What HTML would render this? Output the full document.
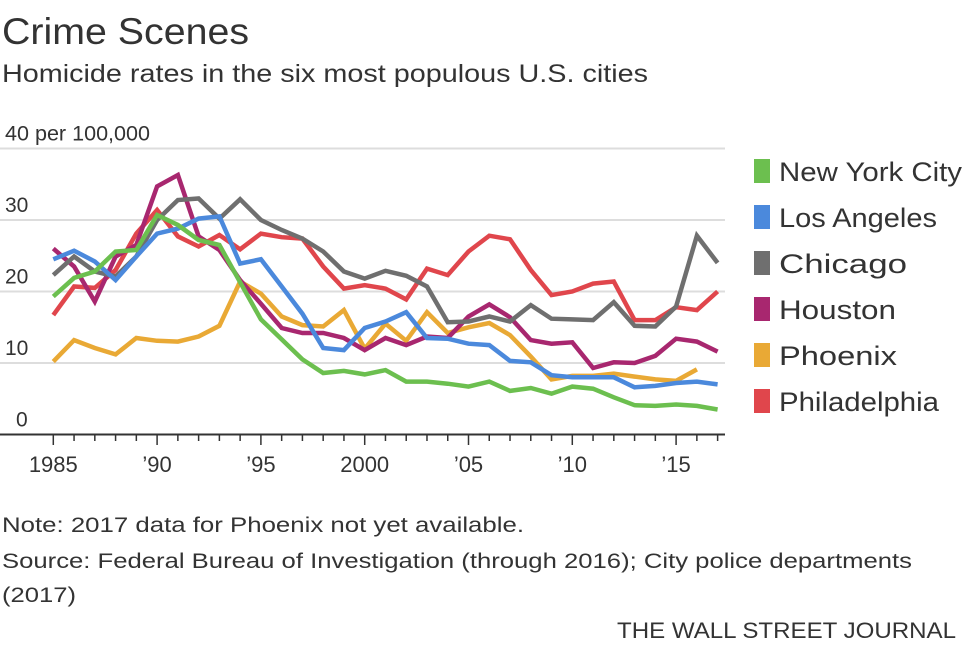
<!DOCTYPE html>
<html><head><meta charset="utf-8"><style>
body{margin:0;background:#fff;}
svg text{font-family:"Liberation Sans",sans-serif;fill:#333;}
</style></head><body>
<svg id="chart" width="968" height="644" viewBox="0 0 968 644" xmlns="http://www.w3.org/2000/svg">
<text x="2" y="44" font-size="37" textLength="247" lengthAdjust="spacingAndGlyphs">Crime Scenes</text>
<text x="2" y="82" font-size="25" textLength="646" lengthAdjust="spacingAndGlyphs">Homicide rates in the six most populous U.S. cities</text>
<g id="grid"></g>
<g id="axes"></g>
<g id="lines"></g>
<g id="legend"></g>
<text x="2" y="532" font-size="21" textLength="522" lengthAdjust="spacingAndGlyphs">Note: 2017 data for Phoenix not yet available.</text>
<text x="2" y="568" font-size="21" textLength="910" lengthAdjust="spacingAndGlyphs">Source: Federal Bureau of Investigation (through 2016); City police departments</text>
<text x="2" y="602" font-size="21" textLength="74" lengthAdjust="spacingAndGlyphs">(2017)</text>
<text x="617" y="638" font-size="22" textLength="339" lengthAdjust="spacingAndGlyphs">THE WALL STREET JOURNAL</text>
</svg>
<script>
const years = [1985,1986,1987,1988,1989,1990,1991,1992,1993,1994,1995,1996,1997,1998,1999,2000,2001,2002,2003,2004,2005,2006,2007,2008,2009,2010,2011,2012,2013,2014,2015,2016,2017];
const nyc = [19.3,21.9,22.8,25.6,25.8,30.7,29.3,27.2,26.5,21.3,16.1,13.3,10.5,8.6,8.9,8.4,9.0,7.4,7.4,7.1,6.7,7.4,6.1,6.5,5.7,6.7,6.4,5.2,4.1,4.0,4.2,4.0,3.5];
const la = [24.5,25.7,24.2,21.6,24.9,28.1,28.8,30.2,30.5,23.9,24.5,20.7,16.9,12.1,11.8,14.9,15.8,17.1,13.5,13.4,12.7,12.5,10.3,10.1,8.3,8.0,8.0,8.0,6.6,6.8,7.2,7.4,7.0];
const chicago = [22.3,24.9,22.8,22.1,24.9,30.0,32.8,33.0,30.2,32.9,30.0,28.6,27.4,25.6,22.8,21.8,22.9,22.2,20.7,15.7,15.8,16.5,15.8,18.1,16.2,16.1,16.0,18.5,15.2,15.1,17.9,27.8,24.0];
const houston = [26.0,23.5,18.6,24.9,26.5,34.7,36.3,27.7,25.8,21.6,18.3,14.9,14.2,14.2,13.5,11.8,13.5,12.5,13.7,13.5,16.5,18.2,16.4,13.2,12.7,12.9,9.3,10.1,10.0,11.0,13.4,13.0,11.6];
const phoenix = [10.2,13.2,12.1,11.2,13.5,13.1,13.0,13.7,15.2,21.4,19.7,16.5,15.3,15.1,17.4,12.0,15.5,13.1,17.1,14.2,15.0,15.6,13.9,10.9,7.7,8.2,8.2,8.5,8.1,7.7,7.5,9.1,null];
const philadelphia = [16.7,20.7,20.5,23.0,28.1,31.4,27.7,26.3,27.9,25.9,28.1,27.6,27.4,23.5,20.4,20.9,20.4,18.9,23.2,22.3,25.6,27.8,27.3,23.0,19.5,20.0,21.1,21.4,16.0,16.0,17.8,17.4,20.0];
const seriesNames = ["New York City","Los Angeles","Chicago","Houston","Phoenix","Philadelphia"];
const seriesColors = ["#6cbf4f","#4b89dc","#6f6f6f","#a8276f","#e9a935","#e0464c"];
const legendWidths = [183,158,128,117,118,160];
const yTicks = [0,10,20,30,40];
const xTickLabels = {1985:"1985",1990:"\u201990",1995:"\u201995",2000:"2000",2005:"\u201905",2010:"\u201910",2015:"\u201915"};

const NS = "http://www.w3.org/2000/svg";
function xS(yr){return 53.3 + (yr-1985)*20.76;}
function yS(v){return 434.5 - v*7.15;}
function mk(tag, attrs, parent){const e=document.createElementNS(NS,tag);for(const k in attrs)e.setAttribute(k,attrs[k]);parent.appendChild(e);return e;}

const grid=document.getElementById('grid');
yTicks.forEach(t=>{
  if(t>0){
    const l=mk('line',{x1:0,x2:725,y1:yS(t),y2:yS(t),stroke:'#dddddd','stroke-width':2},grid);
    
    
  }
  const tx=mk('text',{x:t===0?16:5,y:yS(t)-8,'font-size':21},grid);
  tx.textContent = t===40 ? "40 per 100,000" : String(t);
  if(t===40){tx.setAttribute('textLength','145');tx.setAttribute('lengthAdjust','spacingAndGlyphs');}
  
  
});
const axes=document.getElementById('axes');
const base=mk('line',{x1:0,x2:725,y1:434.5,y2:434.5,stroke:'#333','stroke-width':2},axes);


years.forEach(yr=>{
  const tk=mk('line',{x1:xS(yr),x2:xS(yr),y1:434.5,y2:yr%5===0?445:441,stroke:'#333','stroke-width':1.5},axes);
  
  
  if(xTickLabels[yr]){
    const t=mk('text',{x:xS(yr),y:472,'font-size':22,'text-anchor':'middle'},axes);
    t.textContent=xTickLabels[yr];
    
    
  }
});
const data=[nyc,la,chicago,houston,phoenix,philadelphia];
const lines=document.getElementById('lines');
for(let i=data.length-1;i>=0;i--){
  let d="";
  data[i].forEach((v,j)=>{ if(v===null) return; d+=(d?"L":"M")+xS(years[j]).toFixed(1)+","+yS(v).toFixed(1); });
  const p=mk('path',{d:d,fill:'none',stroke:seriesColors[i],'stroke-width':4.5,'stroke-linejoin':'miter'},lines);
  
  
}
const legend=document.getElementById('legend');
seriesNames.forEach((n,i)=>{
  const y0=159+i*46;
  const r=mk('rect',{x:754,y:y0,width:16,height:24,fill:seriesColors[i]},legend);
  
  
  const t=mk('text',{x:779,y:y0+22,'font-size':27,textLength:legendWidths[i],lengthAdjust:'spacingAndGlyphs'},legend);
  t.textContent=n;
  
  
});
</script>
</body></html>
